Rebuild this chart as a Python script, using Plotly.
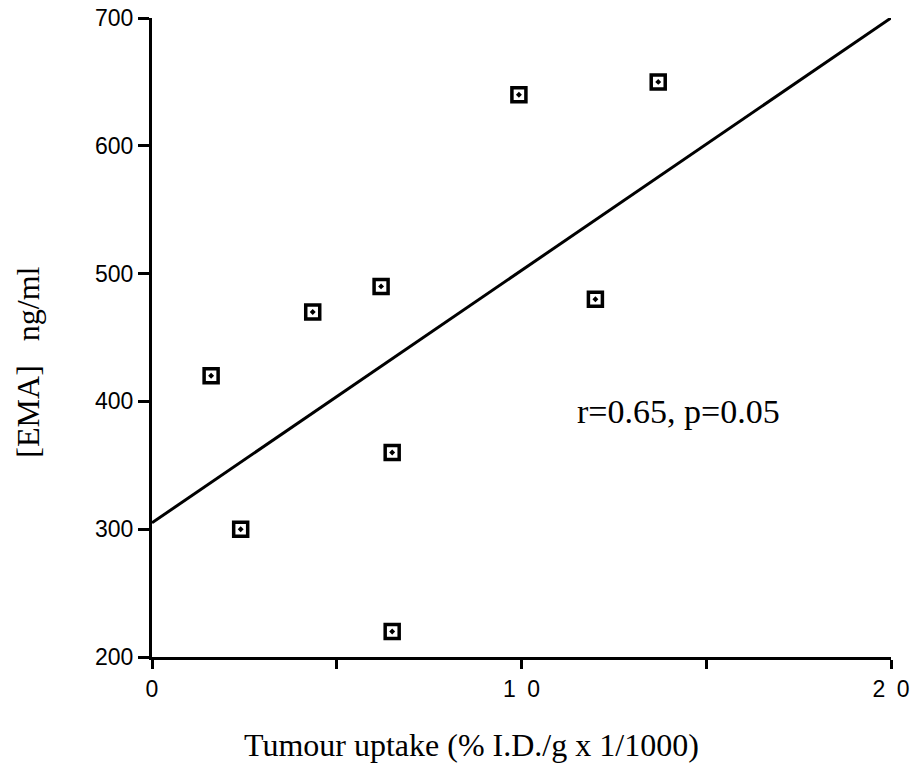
import plotly.graph_objects as go

uptake = [1.6, 2.4, 4.35, 6.2, 6.5, 6.5, 9.93, 12.0, 13.7]
ema = [420, 300, 470, 490, 360, 220, 640, 480, 650]
fit_x = [0, 20]
fit_y = [305, 700]
x_ticks = [0, 5, 10, 15, 20]
x_tick_labels = ["0", "", "1\u20020", "", "2\u20020"]
y_ticks = [200, 300, 400, 500, 600, 700]

serif = "Liberation Serif"
fig = go.Figure()
fig.add_trace(go.Scatter(x=fit_x, y=fit_y, mode="lines",
                         line=dict(color="black", width=3), showlegend=False))
fig.add_trace(go.Scatter(x=uptake, y=ema, mode="markers",
                         marker=dict(symbol="square-open-dot", size=14, color="black",
                                     line=dict(width=3.5, color="black")),
                         showlegend=False))
fig.add_annotation(x=14.25, y=392, text="r=0.65, p=0.05", showarrow=False,
                   font=dict(family=serif, size=34, color="black"))
fig.add_annotation(xref="paper", yref="paper", x=-0.168, y=0.462,
                   text="[EMA]\u00a0\u00a0\u00a0ng/ml", textangle=-90, showarrow=False,
                   xanchor="center", yanchor="middle",
                   font=dict(family=serif, size=32, color="black"))
fig.add_annotation(xref="paper", yref="paper", x=0.433, y=-0.138,
                   text="Tumour uptake (% I.D./g x 1/1000)", showarrow=False,
                   xanchor="center", yanchor="middle",
                   font=dict(family=serif, size=32, color="black"))

fig.update_layout(
    width=911, height=769,
    margin=dict(l=152, r=20, t=18, b=112, autoexpand=False),
    plot_bgcolor="white", paper_bgcolor="white",
    xaxis=dict(range=[0, 20], tickvals=x_ticks, ticktext=x_tick_labels, automargin=False,
               ticklabeloverflow="allow",
               showgrid=False, zeroline=False, showline=True, linecolor="black", linewidth=3,
               ticks="outside", ticklen=9, tickwidth=3, tickcolor="black",
               tickfont=dict(family="Liberation Sans", size=23, color="black")),
    yaxis=dict(range=[200, 700], tickvals=y_ticks, automargin=False,
               ticklabeloverflow="allow",
               showgrid=False, zeroline=False, showline=True, linecolor="black", linewidth=3,
               ticks="outside", ticklen=11, tickwidth=3, tickcolor="black",
               tickfont=dict(family="Liberation Sans", size=23, color="black")),
)
fig.write_html("out.html", config={"displayModeBar": False},
               post_script="document.body.style.margin='0px';")
